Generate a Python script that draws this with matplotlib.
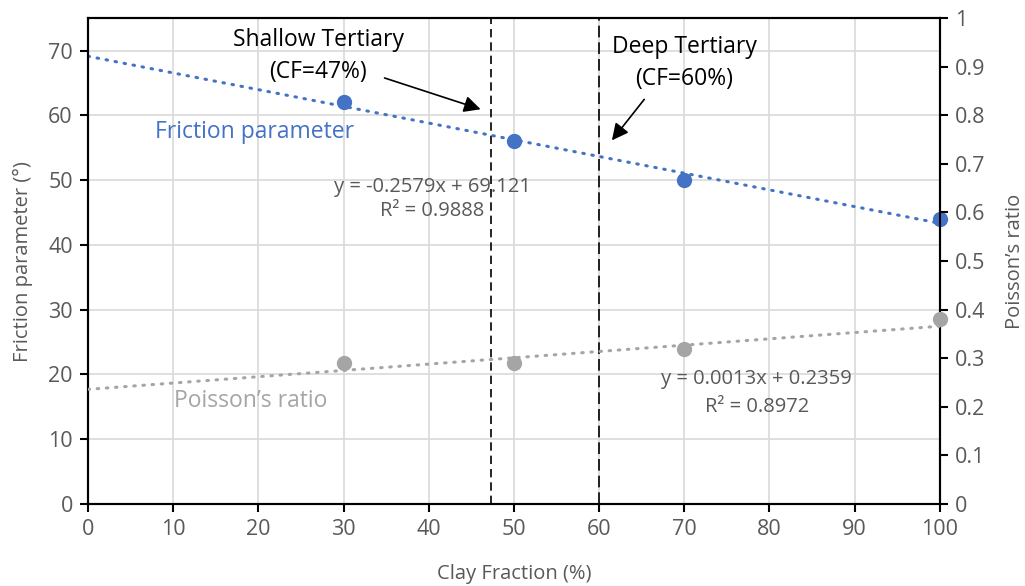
import numpy as np
import matplotlib
matplotlib.use("Agg")
import matplotlib.pyplot as plt

plt.rcParams['font.family'] = ['Open Sans', 'DejaVu Sans']

clay = [30, 50, 70, 100]
friction = [62, 56, 50, 44]
poisson = [0.29, 0.29, 0.32, 0.38]

fric_fit = (-0.2579, 69.121)
pois_fit = (0.0013, 0.2359)

shallow_cf = 47.3
deep_cf = 60

blue = '#4472C4'
grey = '#A5A5A5'
txt = '#595959'

fig = plt.figure(figsize=(10.25, 5.86), dpi=100)
ax = fig.add_axes([0.0859, 0.140, 0.831, 0.829])
ax2 = ax.twinx()

ax.set_xlim(0, 100)
ax.set_ylim(0, 75)
ax2.set_ylim(0, 1)

ax.set_xticks(range(0, 101, 10))
ax.set_yticks(range(0, 71, 10))
ax2.set_yticks(np.arange(0, 1.01, 0.1))
ax2.set_yticklabels(['0'] + ['%.1f' % v for v in np.arange(0.1, 0.95, 0.1)] + ['1'])

ax.grid(True, color='#D9D9D9', lw=1.2)
ax.set_axisbelow(True)
for a in (ax, ax2):
    for s in a.spines.values():
        s.set_color('black')
        s.set_linewidth(1.5)
    a.tick_params(colors='black', labelcolor=txt, labelsize=15.5, length=6, width=1.5, pad=5)

xs = np.array([0, 100])
ax.plot(xs, fric_fit[0] * xs + fric_fit[1], color=blue, lw=2.2,
        linestyle=(0, (0.5, 2.5)), dash_capstyle='round', zorder=3)
ax2.plot(xs, pois_fit[0] * xs + pois_fit[1], color=grey, lw=2.2,
         linestyle=(0, (0.5, 2.5)), dash_capstyle='round', zorder=3)
ax.plot(clay, friction, 'o', color=blue, ms=10, zorder=4, clip_on=False)
ax2.plot(clay, poisson, 'o', color=grey, ms=10, zorder=4, clip_on=False)

ax.axvline(shallow_cf, color='black', lw=1.2, linestyle=(0, (5, 3)))
ax.axvline(deep_cf, color='black', lw=1.2, linestyle=(0, (7, 3)))

ax.text(27, 71.7, 'Shallow Tertiary', ha='center', va='center', fontsize=16.5, color='black')
ax.text(27, 66.7, '(CF=47%)', ha='center', va='center', fontsize=16.5, color='black')
ax.annotate('', xy=(46.4, 60.8), xytext=(34.5, 65.9),
            arrowprops=dict(arrowstyle='-|>', color='black', lw=1.2, mutation_scale=25))
ax.text(70, 70.5, 'Deep Tertiary', ha='center', va='center', fontsize=16.5, color='black')
ax.text(70, 65.6, '(CF=60%)', ha='center', va='center', fontsize=16.5, color='black')
ax.annotate('', xy=(61.3, 55.8), xytext=(65.5, 62.8),
            arrowprops=dict(arrowstyle='-|>', color='black', lw=1.2, mutation_scale=25))

ax.text(19.6, 57.4, 'Friction parameter', ha='center', va='center', fontsize=16.5, color=blue)
ax.text(19.1, 15.9, 'Poisson\u2019s ratio', ha='center', va='center', fontsize=16.5, color=grey)

ax.text(40.4, 48.9, 'y = -0.2579x + 69.121', ha='center', va='center', fontsize=14.5, color=txt)
ax.text(40.4, 45.2, 'R\u00b2 = 0.9888', ha='center', va='center', fontsize=14.5, color=txt)
ax.text(78.5, 19.3, 'y = 0.0013x + 0.2359', ha='center', va='center', fontsize=14.5, color=txt)
ax.text(78.5, 15.0, 'R\u00b2 = 0.8972', ha='center', va='center', fontsize=14.5, color=txt)

ax.set_xlabel('Clay Fraction (%)', fontsize=14.5, color=txt, labelpad=17)
ax.set_ylabel('Friction parameter (\u00b0)', fontsize=14.5, color=txt, labelpad=11)
ax2.set_ylabel('Poisson\u2019s ratio', fontsize=14.5, color=txt, labelpad=14)

fig.savefig('out.png', dpi=100)
